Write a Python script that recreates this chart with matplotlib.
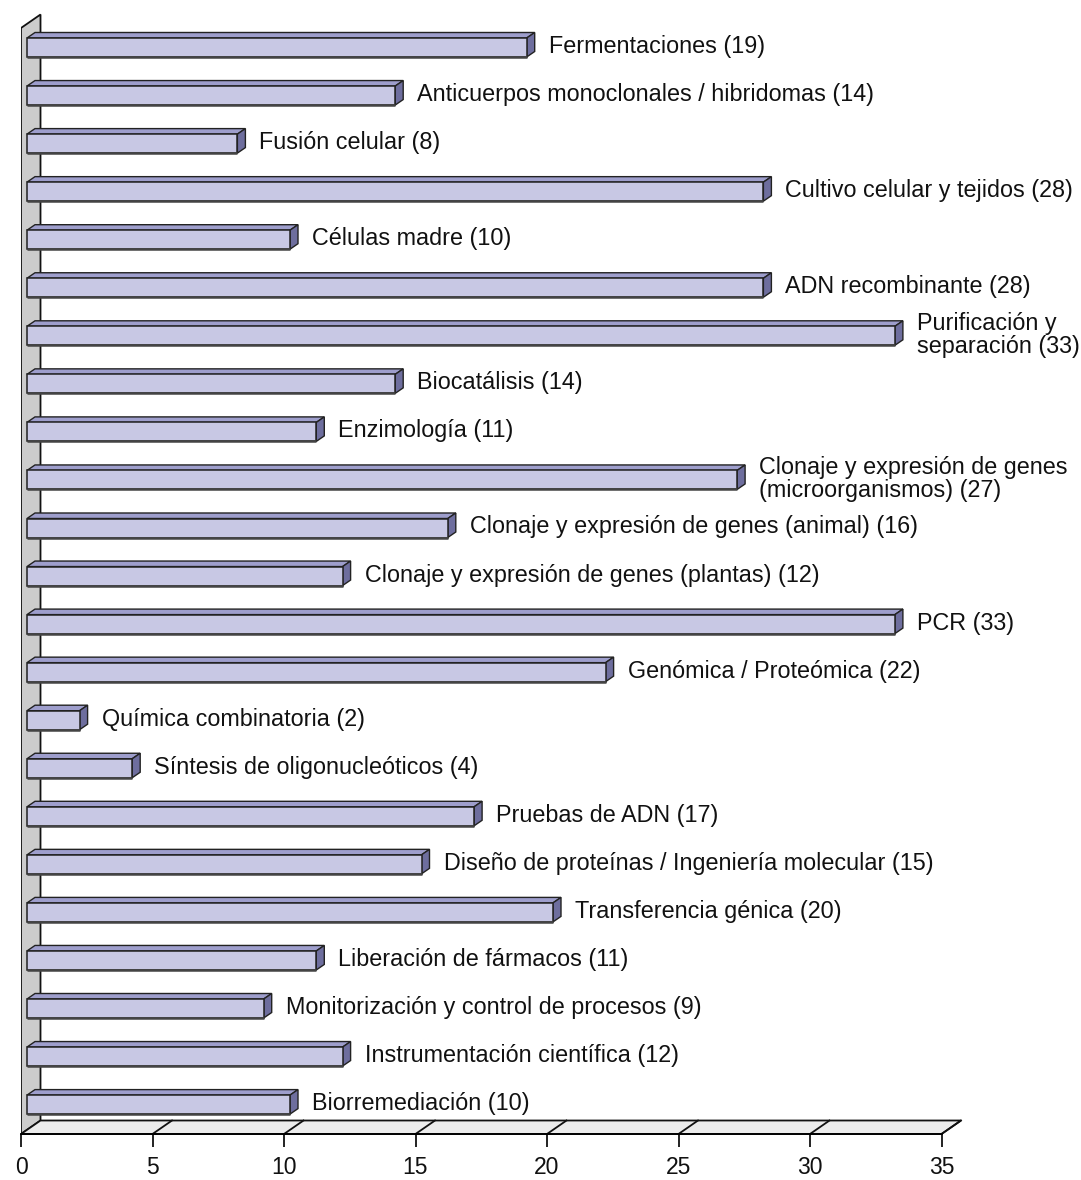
import matplotlib
matplotlib.use("Agg")
import matplotlib.pyplot as plt
from matplotlib.patches import Polygon

plt.rcParams['font.family'] = ['Liberation Sans', 'DejaVu Sans']

categories = [
    "Fermentaciones",
    "Anticuerpos monoclonales / hibridomas",
    "Fusión celular",
    "Cultivo celular y tejidos",
    "Células madre",
    "ADN recombinante",
    "Purificación y\nseparación",
    "Biocatálisis",
    "Enzimología",
    "Clonaje y expresión de genes\n(microorganismos)",
    "Clonaje y expresión de genes (animal)",
    "Clonaje y expresión de genes (plantas)",
    "PCR",
    "Genómica / Proteómica",
    "Química combinatoria",
    "Síntesis de oligonucleóticos",
    "Pruebas de ADN",
    "Diseño de proteínas / Ingeniería molecular",
    "Transferencia génica",
    "Liberación de fármacos",
    "Monitorización y control de procesos",
    "Instrumentación científica",
    "Biorremediación",
]
values = [19, 14, 8, 28, 10, 28, 33, 14, 11, 27, 16, 12, 33, 22, 2, 4, 17, 15, 20, 11, 9, 12, 10]
xticks = [0, 5, 10, 15, 20, 25, 30, 35]

W, H = 1081, 1180
fig = plt.figure(figsize=(W / 100, H / 100), dpi=100)
ax_left_px, ax_bottom_px = 21, 1134
ax = fig.add_axes([ax_left_px / W, (H - ax_bottom_px) / H, (W - ax_left_px) / W, ax_bottom_px / H])

PX = 26.3    # pixels per value unit
PY = 48.05   # pixels per bar slot
y0 = 47.5    # pixel y of first bar centre
ax.set_xlim(0, (W - ax_left_px) / PX)
ax.set_ylim((ax_bottom_px - y0) / PY, (0 - y0) / PY)
ybot = (ax_bottom_px - y0) / PY

def dxp(p):
    return p / PX

def dyp(p):
    return p / PY

# depth of the floor / wall
ddx, ddy = dxp(19.5), dyp(13.5)
xmax = xticks[-1]

# wall
wall_top_front = (28 - y0) / PY
wall = Polygon([(0, ybot), (0, wall_top_front), (ddx, wall_top_front - ddy), (ddx, ybot - ddy)],
               closed=True, facecolor='#cccccc', edgecolor='#111111', lw=1.3, zorder=1)
ax.add_patch(wall)

# floor
floor = Polygon([(0, ybot), (xmax, ybot), (xmax + ddx, ybot - ddy), (ddx, ybot - ddy)],
                closed=True, facecolor='#ececec', edgecolor='#111111', lw=1.3, zorder=1, clip_on=False)
ax.add_patch(floor)
for t in xticks[1:]:
    ax.plot([t, t + ddx], [ybot, ybot - ddy], color='#111111', lw=1.3, zorder=2, clip_on=False)

# bars
bx0 = dxp(6)
bh = dyp(19) / 2
tdx, tdy = dxp(8), dyp(5.5)
front_c, top_c, side_c = '#c8c8e4', '#9e9ecc', '#6e6e9e'
for i, (name, v) in enumerate(zip(categories, values)):
    x1 = bx0 + v
    ytop, ybt = i - bh, i + bh
    ax.add_patch(Polygon([(bx0, ytop), (bx0 + tdx, ytop - tdy), (x1 + tdx, ytop - tdy), (x1, ytop)],
                         closed=True, facecolor=top_c, edgecolor='#222222', lw=1.0, zorder=3))
    ax.add_patch(Polygon([(x1, ytop), (x1 + tdx, ytop - tdy), (x1 + tdx, ybt - tdy), (x1, ybt)],
                         closed=True, facecolor=side_c, edgecolor='#222222', lw=1.0, zorder=3))
    ax.add_patch(Polygon([(bx0, ytop), (x1, ytop), (x1, ybt), (bx0, ybt)],
                         closed=True, facecolor=front_c, edgecolor='#222222', lw=1.1, zorder=4))
    ax.plot([bx0, x1], [ybt, ybt], color='#444444', lw=1.8, zorder=5, solid_capstyle='butt')
    ax.text(x1 + dxp(22), i - dyp(1), f"{name} ({v})", ha='left', va='center', fontsize=16.8,
            linespacing=0.98, color='#111111', zorder=6)

# axis
for s in ['left', 'right', 'top']:
    ax.spines[s].set_visible(False)
ax.spines['bottom'].set_bounds(0, xmax)
ax.spines['bottom'].set_linewidth(1.3)
ax.spines['bottom'].set_zorder(7)
ax.set_xticks(xticks)
ax.set_xticklabels([str(t) for t in xticks])
ax.tick_params(axis='x', length=9, width=1.3, labelsize=16.5, pad=7, colors='#111111')
ax.set_yticks([])
ax.patch.set_alpha(0)

fig.savefig('out.png', dpi=100)
